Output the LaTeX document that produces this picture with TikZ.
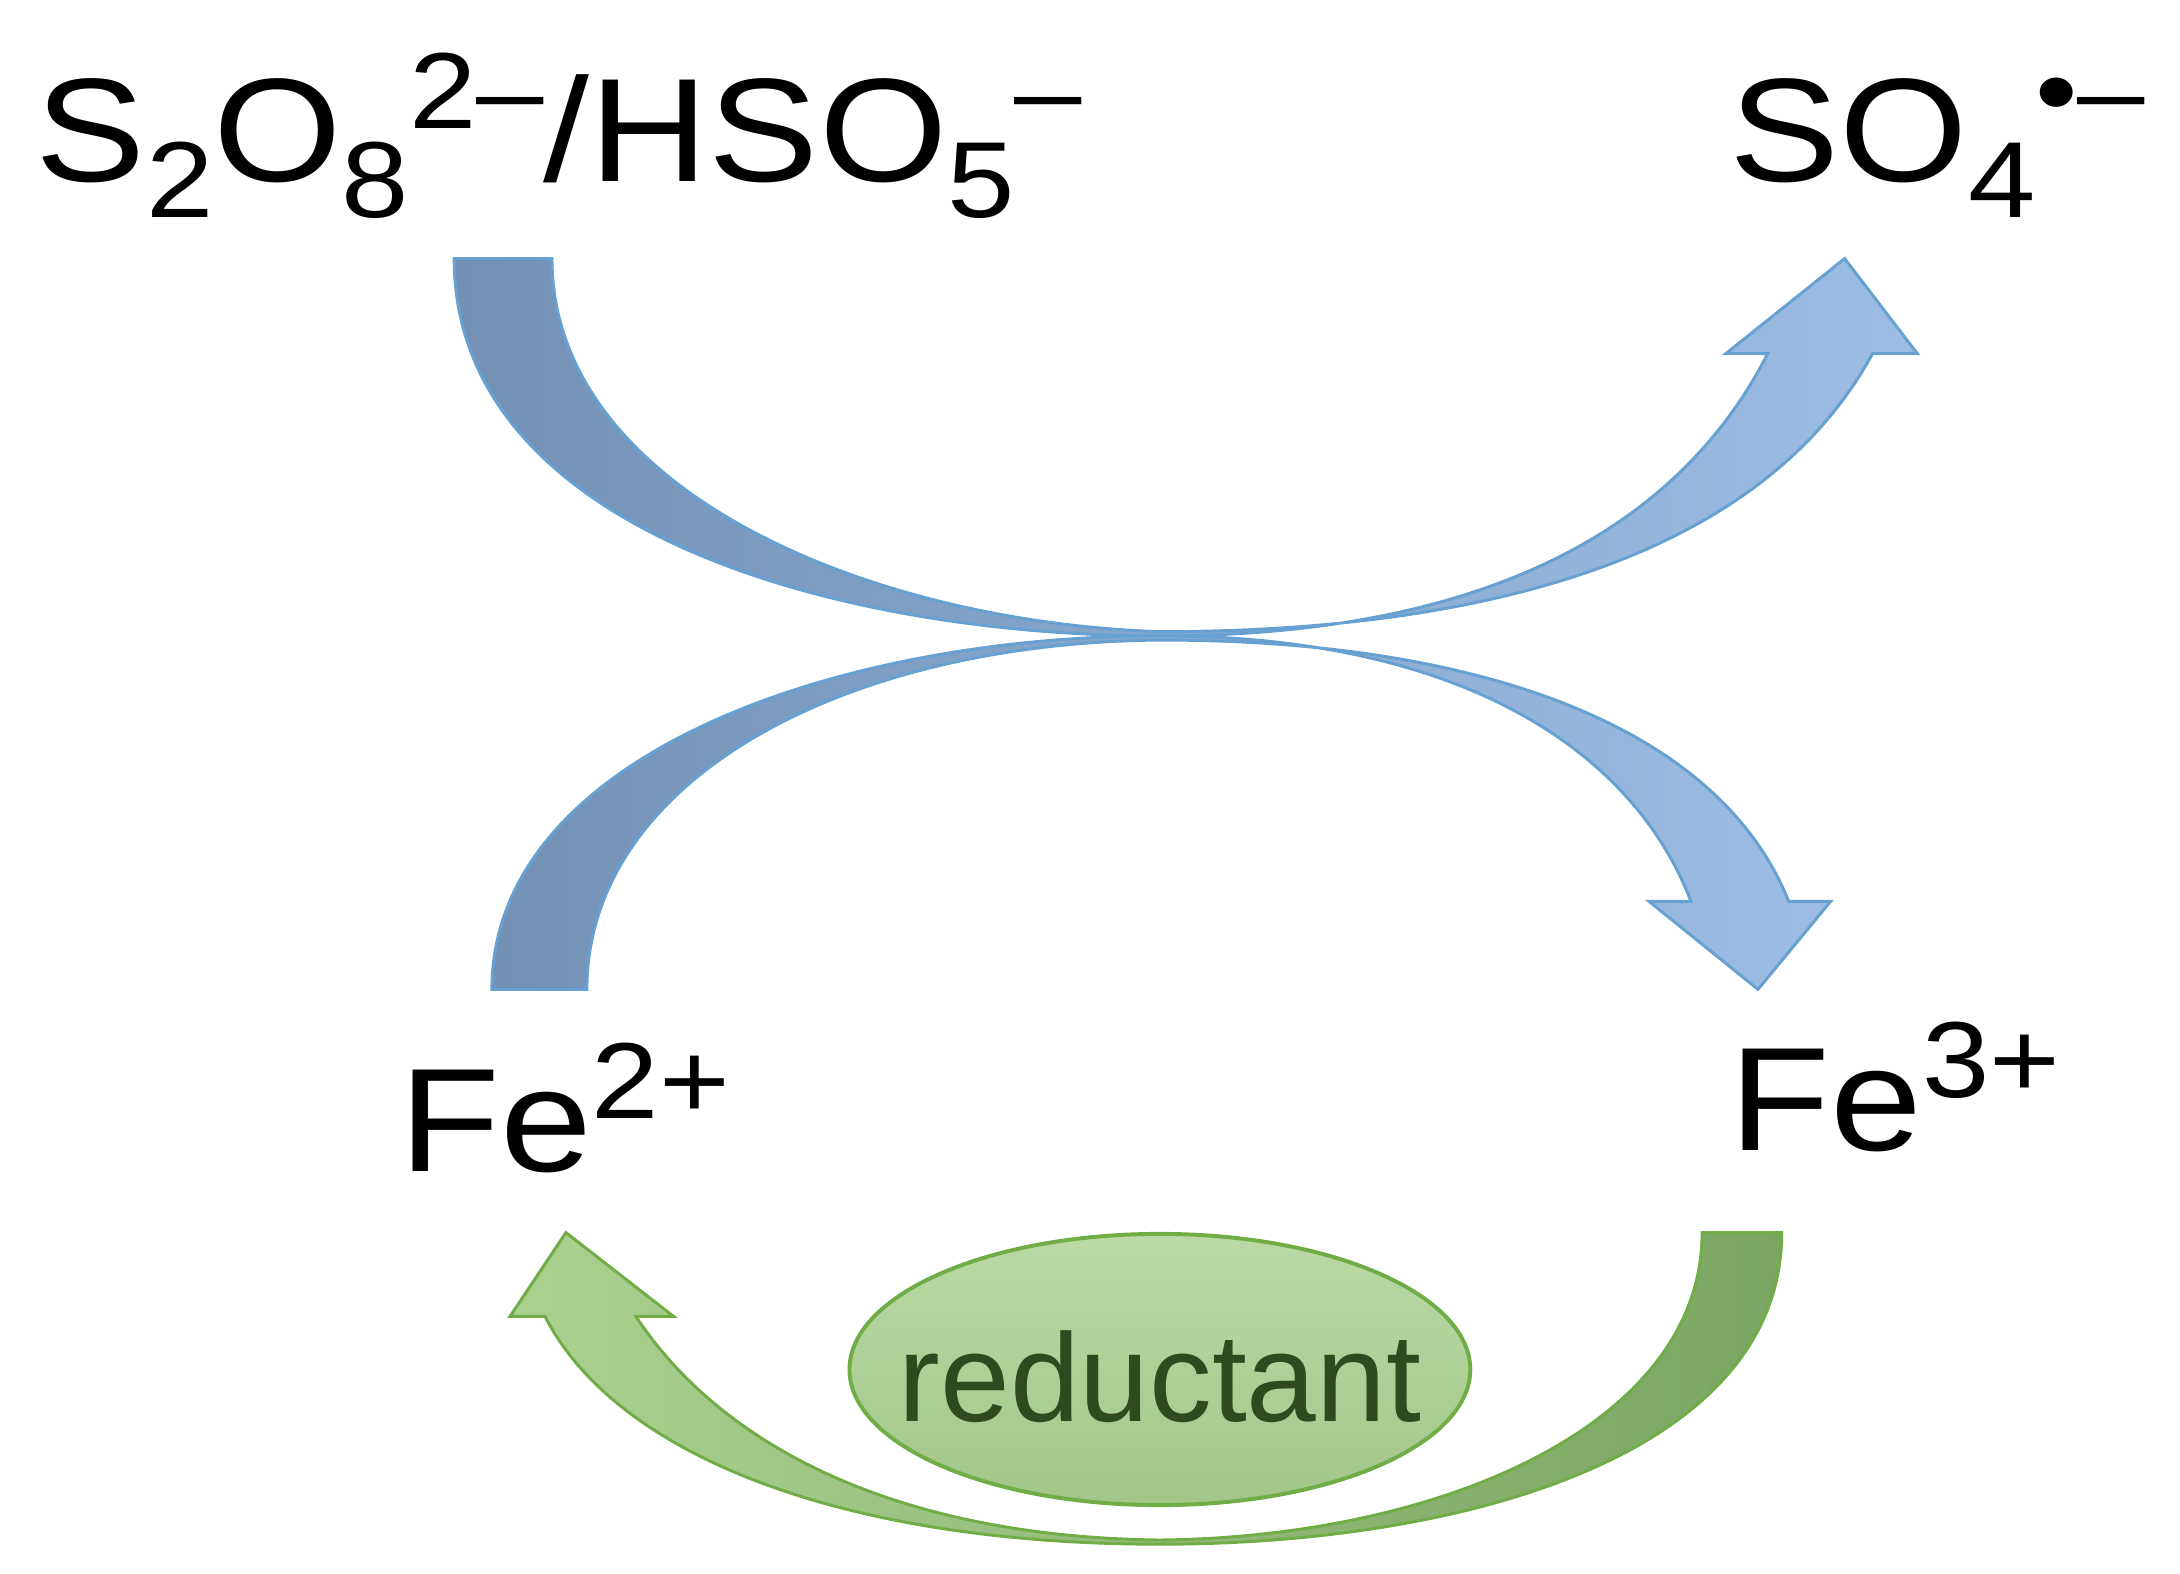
\documentclass[tikz,border=0pt]{standalone}
\usepackage{fontspec}
\setmainfont{Liberation Sans}
\usetikzlibrary{shapes.geometric}
\newcommand{\mysub}[1]{\raisebox{-0.24em}{\fontsize{22}{24}\selectfont #1}}
\newcommand{\mysup}[1]{\raisebox{0.36em}{\fontsize{22}{24}\selectfont #1}}
\newcommand{\wide}[1]{\scalebox{1.12}[1]{#1}}
\begin{document}
\begin{tikzpicture}[x=0.01cm,y=-0.01cm,
  lbl/.style={font=\fontsize{30}{34}\selectfont,anchor=base west,inner sep=0pt},
  blue arrow/.style={draw=blue!45!cyan!70!black!60,line width=0.6pt,left color=dkblue,right color=ltblue},
  green arrow/.style={draw=grn,line width=0.6pt,left color=ltgreen,right color=dkgreen}]
\definecolor{dkblue}{HTML}{7391B5}
\definecolor{ltblue}{HTML}{9DBDE4}
\definecolor{dkgreen}{HTML}{7BA562}
\definecolor{ltgreen}{HTML}{AAD190}
\definecolor{grn}{HTML}{70AD47}
\definecolor{txtgreen}{HTML}{2E4A1E}
\useasboundingbox (0,0) rectangle (1560,1126);
% arrow 1: persulfate -> sulfate radical
\path[blue arrow] (325,185) .. controls (325,380) and (600,455) .. (830,455)
  .. controls (1060,455) and (1200,380) .. (1265,253) -- (1235,253) -- (1320,185) -- (1372,253) -- (1340,253)
  .. controls (1260,400) and (1060,452) .. (830,452)
  .. controls (620,445) and (395,350) .. (395,185) -- cycle;
% arrow 2: Fe2+ -> Fe3+
\path[blue arrow] (352,708) .. controls (352,540) and (600,455) .. (830,455)
  .. controls (1050,455) and (1170,540) .. (1210,645) -- (1180,645) -- (1258,708) -- (1310,645) -- (1280,645)
  .. controls (1230,520) and (1060,458) .. (830,458)
  .. controls (600,460) and (420,560) .. (420,708) -- cycle;
% green arrow: Fe3+ -> Fe2+
\path[green arrow] (1275,882) .. controls (1275,1040) and (1050,1105) .. (830,1105)
  .. controls (600,1105) and (440,1040) .. (390,942) -- (365,942) -- (405,882) -- (482,942) -- (455,942)
  .. controls (520,1040) and (650,1100) .. (830,1102)
  .. controls (1030,1100) and (1218,1020) .. (1218,882) -- cycle;
\node[ellipse,draw=grn,line width=0.8pt,top color=ltgreen!80!white,bottom color=ltgreen!95!black,
  minimum width=4.44cm,minimum height=1.94cm,inner sep=0pt] (red) at (830,980) {};
\node[font=\fontsize{25.5}{30}\selectfont,text=txtgreen,inner sep=0pt] (redt) at (830,985) {reductant};
\node[lbl] (ps) at (25,130) {\wide{S\mysub{2}O\mysub{8}\mysup{2–}/HSO\mysub{5}\mysup{–}}};
\node[lbl] (so4) at (1237,130) {\wide{SO\mysub{4}\mysup{•–}}};
\node[lbl] (fe2) at (285,838) {\wide{Fe\mysup{2+}}};
\node[lbl] (fe3) at (1237,823) {\wide{Fe\mysup{3+}}};
\end{tikzpicture}
\end{document}
